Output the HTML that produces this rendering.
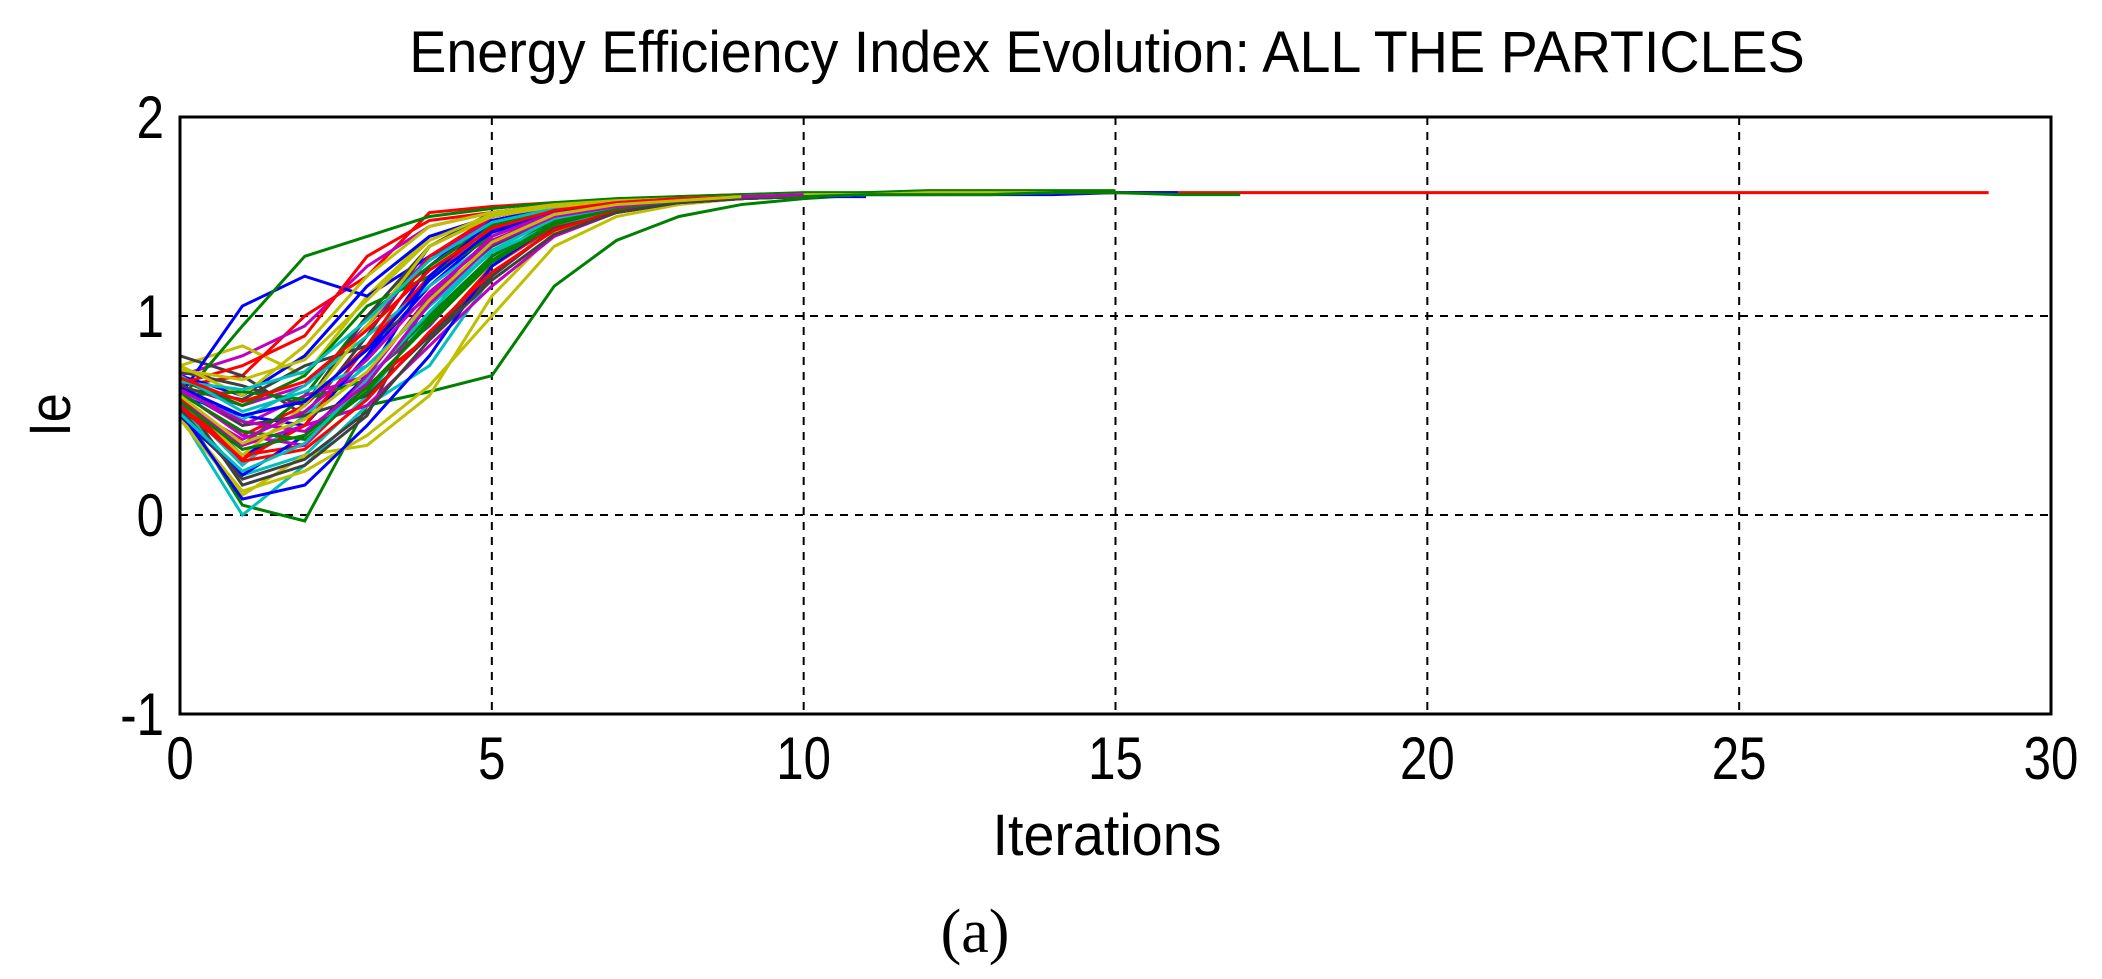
<!DOCTYPE html>
<html><head><meta charset="utf-8"><style>
body{margin:0;background:#fff;}
svg{display:block;font-family:"Liberation Sans",sans-serif;}
</style></head><body>
<svg id="chart" width="2102" height="979" viewBox="0 0 2102 979" xmlns="http://www.w3.org/2000/svg">
<rect width="2102" height="979" fill="#fff"/>
<text x="0" y="0" font-size="58" text-anchor="middle" transform="translate(1107 72) scale(0.96 1)">Energy Efficiency Index Evolution: ALL THE PARTICLES</text>
<g id="grid"></g>
<g id="series"></g>
<rect x="180" y="117" width="1871" height="597" fill="none" stroke="#000" stroke-width="3"/>
<g id="ticks"></g>
<text x="0" y="0" font-size="58" text-anchor="middle" transform="translate(70 415) rotate(-90) scale(0.9 1)">Ie</text>
<text x="0" y="0" font-size="58" text-anchor="middle" transform="translate(1107 855) scale(0.96 1)">Iterations</text>
<text x="975" y="952" font-size="62" text-anchor="middle" font-family="Liberation Serif, serif">(a)</text>
</svg>
<script>
const xTicks=[0,5,10,15,20,25,30];
const yTicks=[-1,0,1,2];
const colors=['#0000ff','#008000','#ff0000','#00bfbf','#bf00bf','#bfbf00','#404040'];
const series=[
[0.60,0.30,0.45,0.80,1.25,1.50,1.56,1.58,1.59,1.60,1.61],
[0.55,0.05,-0.03,0.55,0.62,0.70,1.15,1.38,1.50,1.56,1.59,1.61],
[0.65,0.70,1.00,1.20,1.52,1.55,1.57,1.58,1.60,1.61,1.61,1.62,1.62,1.62,1.62,1.62,1.62,1.62,1.62,1.62,1.62,1.62,1.62,1.62,1.62,1.62,1.62,1.62,1.62,1.62],
[0.50,0.00,0.25,0.55,0.75,1.20,1.45,1.53,1.57,1.59,1.60],
[0.70,0.80,0.95,1.25,1.45,1.52,1.56,1.58,1.59,1.60],
[0.75,0.85,0.70,1.10,1.40,1.50,1.55,1.57,1.59,1.60],
[0.80,0.70,0.50,0.90,1.35,1.52,1.55,1.57,1.59,1.60],
[0.60,1.05,1.20,1.10,1.30,1.45,1.53,1.57,1.59,1.60,1.60,1.60],
[0.58,0.95,1.30,1.40,1.50,1.54,1.57,1.59,1.60,1.61,1.62,1.62,1.63,1.63,1.63,1.63],
[0.62,0.40,0.55,0.85,1.20,1.45,1.54,1.57,1.59,1.60],
[0.55,0.20,0.30,0.60,1.00,1.40,1.52,1.56,1.58,1.60],
[0.65,0.55,0.65,0.95,1.30,1.48,1.54,1.57,1.59,1.60],
[0.48,0.10,0.30,0.35,0.60,1.10,1.42,1.52,1.57,1.59,1.60],
[0.60,0.15,0.25,0.50,1.10,1.40,1.53,1.56,1.58,1.60],
[0.70,0.60,0.80,1.15,1.40,1.50,1.55,1.57,1.59,1.60],
[0.52,0.35,0.60,1.00,1.25,1.46,1.53,1.56,1.58,1.60],
[0.66,0.75,0.90,1.30,1.48,1.52,1.56,1.58,1.59,1.60],
[0.57,0.25,0.50,0.75,1.05,1.35,1.50,1.55,1.58,1.60],
[0.63,0.45,0.60,0.70,0.95,1.30,1.48,1.55,1.58,1.60],
[0.50,0.12,0.22,0.40,0.65,1.00,1.35,1.50,1.56,1.59,1.60],
[0.72,0.65,0.55,1.00,1.35,1.50,1.55,1.57,1.59,1.60],
[0.60,0.50,0.45,0.80,1.15,1.42,1.52,1.56,1.58,1.60,1.60,1.61,1.61,1.61,1.61,1.62,1.62],
[0.68,0.55,0.70,1.05,1.20,1.40,1.52,1.56,1.58,1.60],
[0.55,0.30,0.35,0.65,0.90,1.25,1.45,1.53,1.57,1.59,1.60,1.61,1.62,1.62,1.62,1.62],
[0.62,0.48,0.65,0.90,1.15,1.38,1.50,1.55,1.58,1.60],
[0.58,0.35,0.45,0.55,0.85,1.15,1.40,1.52,1.57,1.59,1.60],
[0.75,0.60,0.85,1.20,1.45,1.52,1.56,1.58,1.59,1.60],
[0.64,0.58,0.75,0.85,1.10,1.35,1.50,1.56,1.58,1.60],
[0.50,0.20,0.40,0.70,1.20,1.48,1.54,1.57,1.59,1.60],
[0.60,0.62,0.58,0.68,1.00,1.30,1.48,1.55,1.58,1.60],
[0.54,0.28,0.45,0.85,1.30,1.50,1.55,1.57,1.59,1.60],
[0.70,0.52,0.62,0.75,1.05,1.32,1.46,1.53,1.57,1.59,1.60],
[0.62,0.40,0.35,0.70,1.10,1.40,1.52,1.56,1.58,1.60],
[0.58,0.30,0.55,0.95,1.35,1.50,1.55,1.57,1.59,1.60,1.61,1.61,1.62,1.62,1.62],
[0.66,0.45,0.50,0.60,0.90,1.20,1.44,1.52,1.57,1.59,1.60],
[0.52,0.08,0.15,0.45,0.80,1.25,1.47,1.55,1.58,1.60],
[0.61,0.42,0.38,0.62,0.98,1.28,1.47,1.55,1.58,1.60,1.61,1.61],
[0.59,0.27,0.33,0.58,0.92,1.22,1.43,1.53,1.57,1.59,1.60],
[0.67,0.63,0.72,0.98,1.28,1.47,1.54,1.57,1.59,1.60,1.60,1.61,1.61],
[0.56,0.38,0.52,0.78,1.12,1.38,1.51,1.56,1.58,1.60],
[0.73,0.68,0.78,1.08,1.38,1.51,1.55,1.57,1.59,1.60,1.61,1.61,1.61,1.62],
[0.53,0.18,0.28,0.52,0.88,1.18,1.41,1.52,1.57,1.59,1.60],
[0.64,0.50,0.57,0.83,1.18,1.43,1.53,1.56,1.58,1.60],
[0.57,0.33,0.40,0.64,0.96,1.27,1.46,1.54,1.58,1.60,1.60,1.61,1.61,1.61,1.62,1.62,1.61,1.61],
[0.69,0.57,0.67,0.93,1.23,1.44,1.53,1.57,1.59,1.60],
[0.51,0.22,0.36,0.68,1.02,1.33,1.49,1.55,1.58,1.60],
[0.63,0.47,0.42,0.66,1.06,1.36,1.50,1.55,1.58,1.60,1.61],
[0.60,0.36,0.48,0.72,1.08,1.37,1.51,1.56,1.58,1.60]
];
const X0=180,X1=2051,Y0=714,Y1=117;
const xs=v=>X0+(v-0)/(30-0)*(X1-X0);
const ys=v=>Y0-(v-(-1))/(2-(-1))*(Y0-Y1);
const NS='http://www.w3.org/2000/svg';
const grid=document.getElementById('grid'),ticks=document.getElementById('ticks'),sg=document.getElementById('series');
xTicks.forEach(t=>{
  if(t>0&&t<30){const l=document.createElementNS(NS,'line');
  
  
  l.setAttribute('x1',xs(t));l.setAttribute('x2',xs(t));l.setAttribute('y1',Y1);l.setAttribute('y2',Y0);
  l.setAttribute('stroke','#000');l.setAttribute('stroke-width','2');l.setAttribute('stroke-dasharray','8 7');grid.appendChild(l);}
  const tx=document.createElementNS(NS,'text');
  
  
  tx.setAttribute('x',0);tx.setAttribute('y',0);tx.setAttribute('font-size','60');tx.setAttribute('text-anchor','middle');
  tx.setAttribute('transform','translate('+xs(t)+' 779) scale(0.82 1)');
  tx.textContent=t;ticks.appendChild(tx);
});
yTicks.forEach(t=>{
  if(t>-1&&t<2){const l=document.createElementNS(NS,'line');
  
  
  l.setAttribute('x1',X0);l.setAttribute('x2',X1);l.setAttribute('y1',ys(t));l.setAttribute('y2',ys(t));
  l.setAttribute('stroke','#000');l.setAttribute('stroke-width','2');l.setAttribute('stroke-dasharray','8 7');grid.appendChild(l);}
  const tx=document.createElementNS(NS,'text');
  
  
  tx.setAttribute('x',0);tx.setAttribute('y',0);tx.setAttribute('font-size','60');tx.setAttribute('text-anchor','end');
  tx.setAttribute('transform','translate(164 '+(ys(t)+21)+') scale(0.82 1)');
  tx.textContent=t;ticks.appendChild(tx);
});
series.forEach((s,i)=>{
  const p=document.createElementNS(NS,'polyline');
  
  
  p.setAttribute('points',s.map((v,k)=>xs(k)+','+ys(v)).join(' '));
  p.setAttribute('fill','none');p.setAttribute('stroke',colors[i%colors.length]);p.setAttribute('stroke-width','3');
  sg.appendChild(p);
});
</script>
</body></html>
